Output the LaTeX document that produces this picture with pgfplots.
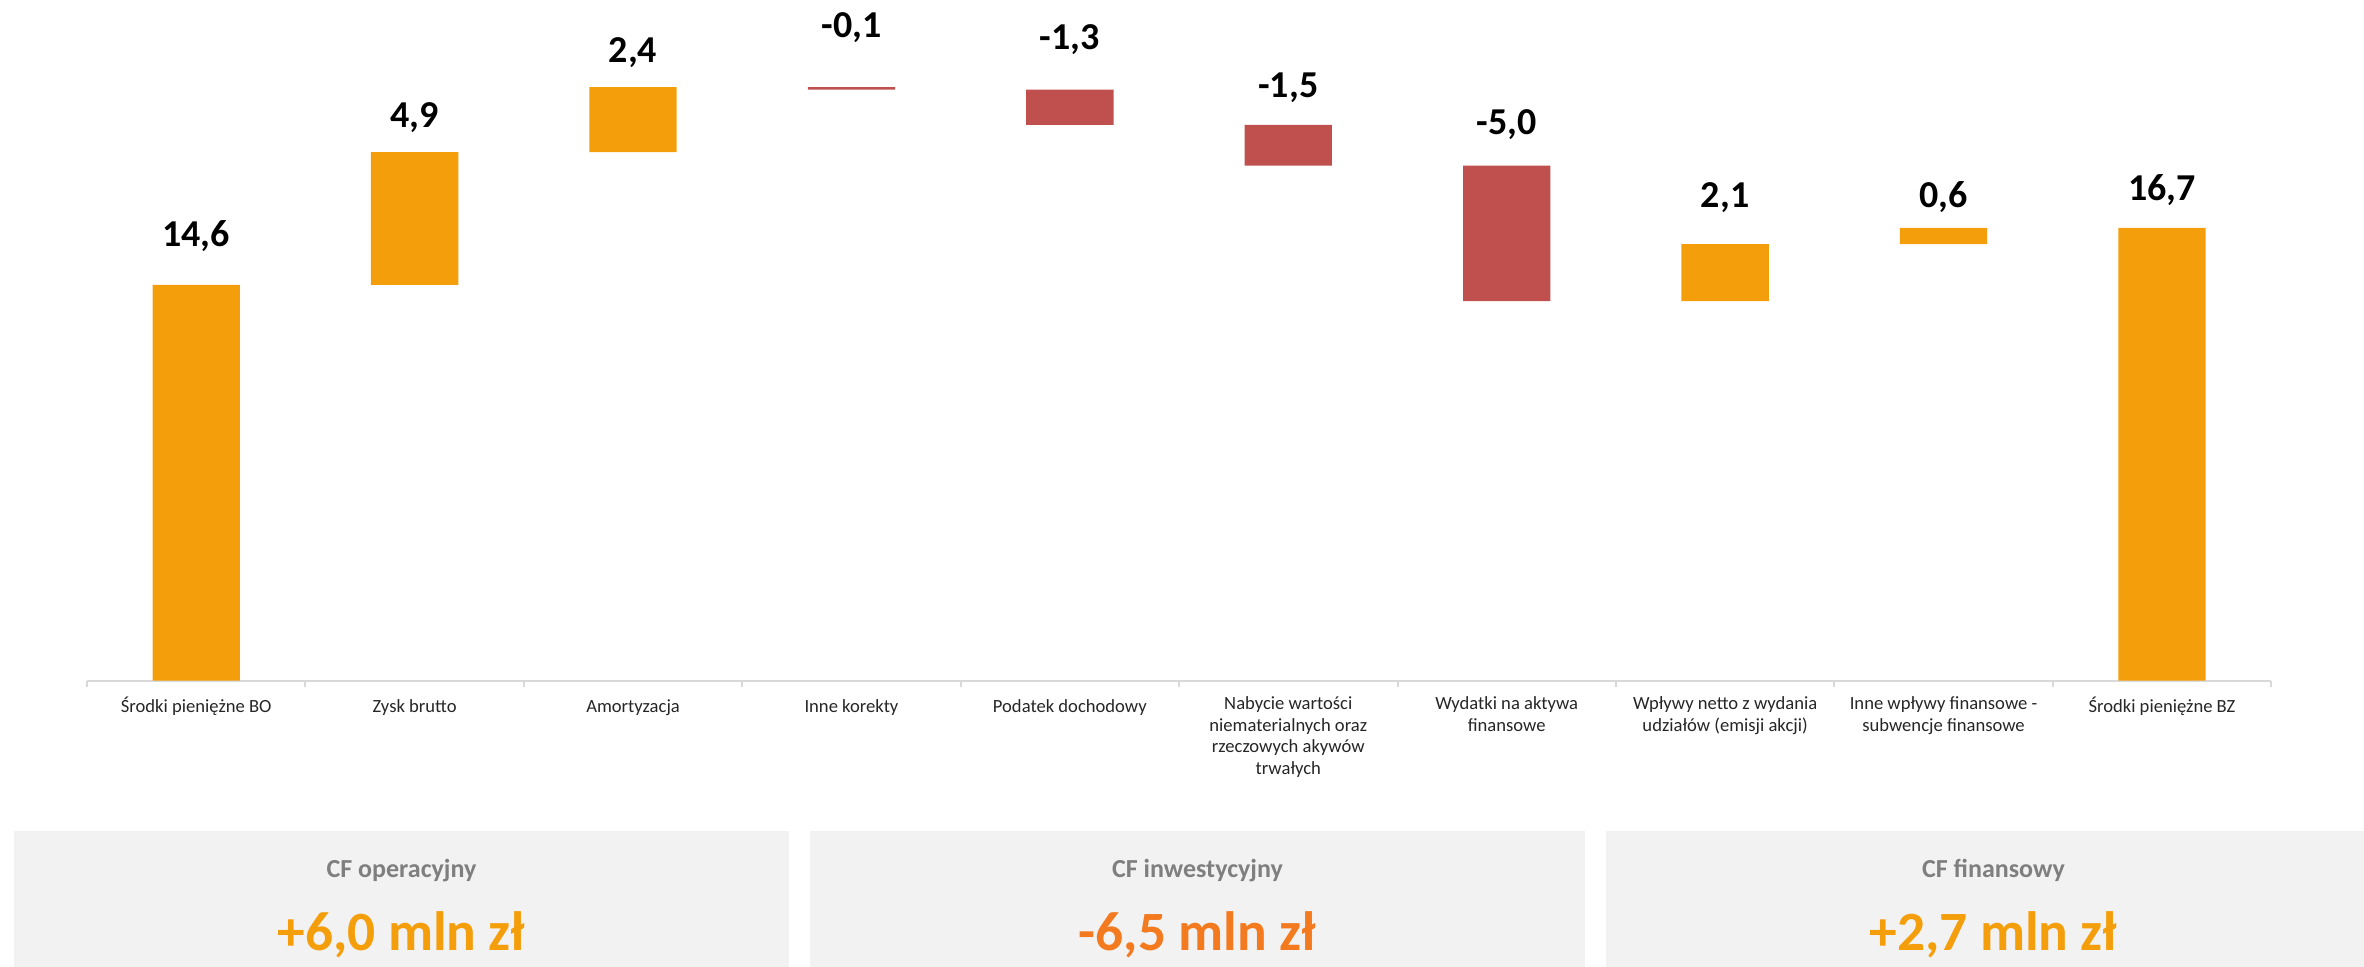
\documentclass[border=0pt]{standalone}
\usepackage{pgfplots}
\pgfplotsset{compat=1.18}
\usepackage{pgfplotstable}
\usepackage{fontspec}
\setmainfont{Carlito}
\definecolor{barorange}{HTML}{F59E0B}
\definecolor{barred}{HTML}{C0504D}
\definecolor{boxgray}{HTML}{F2F2F2}
\definecolor{titlegray}{HTML}{7F7F7F}
\definecolor{negorange}{HTML}{F47A20}
\definecolor{axisgray}{HTML}{D9D9D9}

\pgfplotstableread{
x base pos neg
0 0    14.6 0
1 14.6 4.9  0
2 19.5 2.4  0
3 21.8 0    0.1
4 20.5 0    1.3
5 19.0 0    1.5
6 14.0 0    5.0
7 14.0 2.1  0
8 16.1 0.6  0
9 0    16.7 0
}\bars

\pgfplotstableread{
x y label
0 16.03 14,6
1 20.42 4,9
2 22.82 2,4
3 23.71 -0,1
4 23.27 -1,3
5 21.53 -1,5
6 20.13 -5,0
7 17.47 2,1
8 17.47 0,6
9 17.73 16,7
}\labels

\begin{document}
\begin{tikzpicture}[x=0.5pt,y=0.5pt]
\path[use as bounding box] (0,0) rectangle (2364,966);
\coordinate (axisorigin) at (87,285.5);
% summary boxes
\fill[boxgray] (14,-40) rectangle (789,135);
\fill[boxgray] (810,-40) rectangle (1585,135);
\fill[boxgray] (1606,-40) rectangle (2381,135);
\node[font=\fontsize{13}{15}\selectfont\bfseries, text=titlegray, anchor=base, inner sep=0pt] at (401.5,89) {CF operacyjny};
\node[font=\fontsize{13}{15}\selectfont\bfseries, text=titlegray, anchor=base, inner sep=0pt] at (1197.5,89) {CF inwestycyjny};
\node[font=\fontsize{13}{15}\selectfont\bfseries, text=titlegray, anchor=base, inner sep=0pt] at (1993.5,89) {CF finansowy};
\node[font=\fontsize{27.7}{30}\selectfont\bfseries, text=barorange, anchor=base, inner sep=0pt] at (401.5,16) {+6,0 mln zł};
\node[font=\fontsize{27.7}{30}\selectfont\bfseries, text=negorange, anchor=base, inner sep=0pt] at (1197.5,16) {-6,5 mln zł};
\node[font=\fontsize{27.7}{30}\selectfont\bfseries, text=barorange, anchor=base, inner sep=0pt] at (1993.5,16) {+2,7 mln zł};

\begin{axis}[
  at={(axisorigin)}, anchor=south west, scale only axis,
  width=1092pt, height=338.75pt,
  xmin=-0.5, xmax=9.5, ymin=0, ymax=25,
  ybar stacked, bar width=0.4,
  axis x line*=bottom, axis y line=none,
  x axis line style={draw=axisgray, line width=1pt},
  ytick=\empty,
  xtick={0,...,9},
  xticklabels={{Środki pieniężne BO},{Zysk brutto},{Amortyzacja},{Inne korekty},{Podatek dochodowy},{Nabycie wartości\\niematerialnych oraz\\rzeczowych akywów\\trwałych},{Wydatki na aktywa\\finansowe},{Wpływy netto z wydania\\udziałów (emisji akcji)},{Inne wpływy finansowe -\\subwencje finansowe},{Środki pieniężne BZ}},
  major tick length=0pt,
  minor xtick={-0.5,0.5,...,9.5},
  minor tick length=3pt,
  tick align=outside,
  minor tick style={draw=axisgray, line width=1pt},
  major tick style={draw=none},
  xticklabel style={align=center, font=\fontsize{9.3}{10.85}\selectfont, text=black!85, inner sep=0pt, anchor=north, yshift=-7.75pt, execute at begin node={\rule{0pt}{8pt}}},
  clip=false,
]
\addplot[fill=none, draw=none] table[x=x,y=base]{\bars};
\addplot[fill=barorange, draw=none] table[x=x,y=pos]{\bars};
\addplot[fill=barred, draw=none] table[x=x,y=neg]{\bars};
\end{axis}

\begin{axis}[
  at={(axisorigin)}, anchor=south west, scale only axis,
  width=1092pt, height=338.75pt,
  xmin=-0.5, xmax=9.5, ymin=0, ymax=25,
  hide axis, clip=false,
  every node near coord/.append style={font=\fontsize{19}{21}\selectfont\bfseries, text=black, inner sep=0pt, text depth=0pt, anchor=base},
]
\addplot[draw=none, mark=none, nodes near coords, point meta=explicit symbolic] table[x=x,y=y,meta=label]{\labels};
\end{axis}
\end{tikzpicture}
\end{document}
